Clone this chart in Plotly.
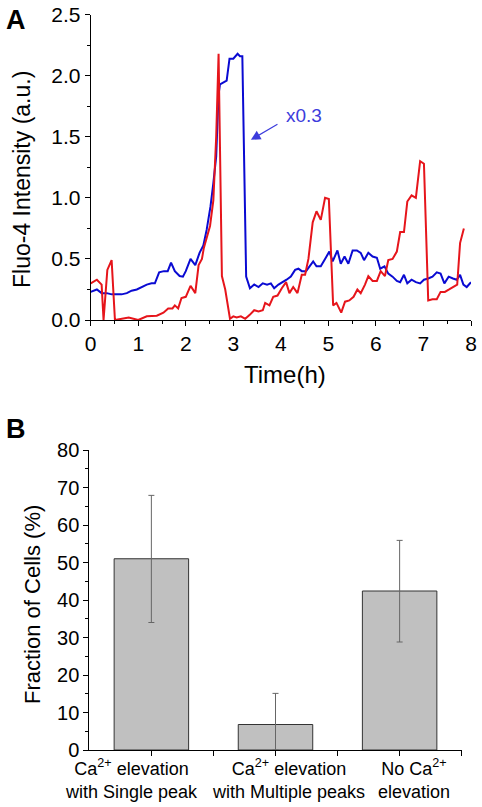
import plotly.graph_objects as go

# ---------------- Panel A data ----------------
time_red = [0.0, 0.13, 0.23, 0.27, 0.35, 0.44, 0.51, 0.8, 1.0, 1.18, 1.39, 1.53, 1.63, 1.72, 1.77, 1.84,
            1.91, 2.0, 2.1, 2.2, 2.27, 2.34, 2.38, 2.44, 2.51, 2.58, 2.64, 2.69, 2.76, 2.83, 2.93, 3.0,
            3.07, 3.16, 3.25, 3.34, 3.44, 3.53, 3.62, 3.67, 3.76, 3.84, 3.93, 4.02, 4.11, 4.18, 4.26,
            4.35, 4.44, 4.51, 4.58, 4.67, 4.75, 4.84, 4.93, 5.01, 5.1, 5.17, 5.27, 5.35, 5.44, 5.53,
            5.61, 5.68, 5.77, 5.84, 5.93, 6.02, 6.1, 6.19, 6.26, 6.35, 6.44, 6.51, 6.59, 6.66, 6.75,
            6.84, 6.93, 7.01, 7.1, 7.19, 7.28, 7.36, 7.45, 7.54, 7.63, 7.71, 7.77, 7.85]
red = [0.30, 0.33, 0.29, 0.0, 0.41, 0.49, 0.0, 0.02, 0.0, 0.03, 0.035, 0.06, 0.095, 0.095, 0.12, 0.095,
       0.18, 0.19, 0.28, 0.22, 0.45, 0.50, 0.59, 0.68, 0.77, 0.98, 1.50, 2.18, 0.36, 0.25, 0.01, 0.03,
       0.02, 0.03, 0.01, 0.04, 0.08, 0.07, 0.08, 0.14, 0.12, 0.19, 0.20, 0.26, 0.31, 0.22,
       0.27, 0.22, 0.37, 0.37, 0.50, 0.80, 0.89, 0.82, 1.00, 0.99, 0.12, 0.14, 0.06, 0.15, 0.16, 0.19,
       0.25, 0.22, 0.29, 0.36, 0.32, 0.32, 0.40, 0.36, 0.49, 0.50, 0.56, 0.72, 0.72, 0.97, 1.02,
       1.00, 1.30, 1.28, 0.16, 0.17, 0.17, 0.23, 0.23, 0.25, 0.27, 0.29, 0.63, 0.75]

time_blue = [0.0, 0.13, 0.23, 0.34, 0.44, 0.55, 0.65, 0.76, 0.86, 0.97, 1.07, 1.18, 1.28, 1.35, 1.44,
             1.54, 1.62, 1.69, 1.77, 1.87, 1.94, 2.0, 2.1, 2.2, 2.29, 2.37, 2.44, 2.52, 2.58, 2.64,
             2.69, 2.72, 2.86, 2.92, 3.0, 3.09, 3.14, 3.19, 3.27, 3.35, 3.44, 3.53, 3.62, 3.71,
             3.79, 3.86, 3.95, 4.04, 4.12, 4.21, 4.3, 4.37, 4.44, 4.53, 4.61, 4.68, 4.75, 4.84, 4.93,
             5.02, 5.09, 5.19, 5.26, 5.34, 5.42, 5.51, 5.6, 5.68, 5.75, 5.84, 5.93, 6.02, 6.09, 6.18,
             6.26, 6.35, 6.44, 6.51, 6.59, 6.66, 6.75, 6.84, 6.93, 7.01, 7.1, 7.19, 7.28, 7.36, 7.44,
             7.53, 7.62, 7.7, 7.77, 7.84, 7.91, 8.0]
blue = [0.23, 0.25, 0.22, 0.22, 0.21, 0.21, 0.21, 0.22, 0.24, 0.25, 0.27, 0.29, 0.30, 0.30, 0.39,
        0.40, 0.40, 0.47, 0.40, 0.36, 0.355, 0.40, 0.50, 0.45, 0.55, 0.61, 0.74, 0.93, 1.12, 1.34,
        1.85, 1.93, 1.96, 2.14, 2.14, 2.18, 2.16, 2.16, 0.355, 0.26, 0.29, 0.27, 0.30, 0.29,
        0.30, 0.26, 0.29, 0.31, 0.33, 0.355, 0.41, 0.42, 0.40, 0.40, 0.44, 0.48, 0.44, 0.44, 0.50,
        0.56, 0.48, 0.57, 0.46, 0.52, 0.46, 0.57, 0.57, 0.55, 0.49, 0.55, 0.52, 0.51, 0.42, 0.44,
        0.38, 0.355, 0.32, 0.31, 0.37, 0.30, 0.33, 0.31, 0.30, 0.33, 0.34, 0.355, 0.39, 0.38,
        0.30, 0.355, 0.34, 0.33, 0.37, 0.29, 0.27, 0.31]

# ---------------- Panel B data ----------------
categories = [1, 2, 3]
category_labels = ["Ca<sup>2+</sup> elevation<br>with Single peak",
                   "Ca<sup>2+</sup> elevation<br>with Multiple peaks",
                   "No Ca<sup>2+</sup><br>elevation"]
fractions = [51.0, 6.8, 42.4]
err_plus = [16.9, 8.3, 13.5]
err_minus = [17.0, 6.8, 13.6]

FONT = "Liberation Sans, Arial, sans-serif"
W, H = 482, 807

fig = go.Figure()

fig.add_trace(go.Scatter(x=time_blue, y=blue, mode="lines",
                         line=dict(color="#0a0ad2", width=2), xaxis="x", yaxis="y",
                         showlegend=False))
fig.add_trace(go.Scatter(x=time_red, y=red, mode="lines",
                         line=dict(color="#e6151b", width=2), xaxis="x", yaxis="y",
                         showlegend=False))

fig.add_trace(go.Bar(x=categories, y=fractions, width=0.6,
                     marker=dict(color="#c0c0c0", line=dict(color="#333333", width=1)),
                     error_y=dict(type="data", array=err_plus, arrayminus=err_minus,
                                  color="#666666", thickness=1, width=3),
                     xaxis="x2", yaxis="y2", showlegend=False))

axis_common = dict(showline=True, linecolor="black", linewidth=1, ticks="outside",
                   ticklen=5, tickwidth=1, tickcolor="black", showgrid=False, zeroline=False,
                   mirror=False, automargin=False)

fig.update_layout(
    width=W, height=H,
    margin=dict(l=0, r=0, t=0, b=0, pad=0, autoexpand=False),
    paper_bgcolor="white", plot_bgcolor="white",
    font=dict(family=FONT, color="black"),
    xaxis=dict(domain=[90.7 / W, 471 / W], anchor="y", range=[0, 8], dtick=1,
               tickfont=dict(size=21, family=FONT), ticklabeloverflow="allow",
               minor=dict(ticks="outside", dtick=0.5, ticklen=3, tickcolor="black"),
               **axis_common),
    yaxis=dict(domain=[1 - 320 / H, 1 - 14.7 / H], anchor="x", range=[0, 2.5], dtick=0.5,
               tickformat=".1f", tickfont=dict(size=21, family=FONT), ticklabeloverflow="allow",
               minor=dict(ticks="outside", dtick=0.25, ticklen=3, tickcolor="black"),
               **axis_common),
    xaxis2=dict(domain=[89.3 / W, 461.7 / W], anchor="y2", range=[0.5, 3.5],
                tickvals=[1, 1.5, 2, 2.5, 3, 3.5], showticklabels=False,
                **axis_common),
    yaxis2=dict(domain=[1 - 750 / H, 1 - 450 / H], anchor="x2", range=[0, 80], dtick=10,
                tickfont=dict(size=20, family=FONT),
                minor=dict(ticks="outside", dtick=5, ticklen=3, tickcolor="black"),
                **axis_common),
)

annotations = [
    dict(text="<b>A</b>", x=16 / W, y=1 - 20 / H, xref="paper", yref="paper", showarrow=False,
         font=dict(size=27, family=FONT), xanchor="center", yanchor="middle"),
    dict(text="<b>B</b>", x=16 / W, y=1 - 429 / H, xref="paper", yref="paper", showarrow=False,
         font=dict(size=27, family=FONT), xanchor="center", yanchor="middle"),
    dict(text="Fluo-4 Intensity (a.u.)", x=22 / W, y=1 - 180 / H, xref="paper", yref="paper",
         textangle=-90, showarrow=False, font=dict(size=23, family=FONT),
         xanchor="center", yanchor="middle"),
    dict(text="Time(h)", x=284.5 / W, y=1 - 374 / H, xref="paper", yref="paper",
         showarrow=False, font=dict(size=24, family=FONT), xanchor="center", yanchor="middle"),
    dict(text="Fraction of Cells (%)", x=32 / W, y=1 - 605 / H, xref="paper", yref="paper",
         textangle=-90, showarrow=False, font=dict(size=22, family=FONT),
         xanchor="center", yanchor="middle"),
    dict(text="x0.3", x=4.48, y=1.672, xref="x", yref="y", showarrow=False,
         font=dict(size=19, family=FONT, color="#3c3cdc"), xanchor="center", yanchor="middle"),
    dict(text="", x=3.37, y=1.475, ax=3.96, ay=1.61, xref="x", yref="y", axref="x", ayref="y",
         showarrow=True, arrowhead=2, arrowsize=1.6, arrowwidth=1.2, arrowcolor="#3c3cdc"),
]
# category labels (placed like the original, slightly off the tick centres)
label_centres_px = [131, 288, 414]
for lbl, cx in zip(category_labels, label_centres_px):
    annotations.append(dict(text=lbl, x=cx / W, y=1 - 779 / H, xref="paper", yref="paper",
                            showarrow=False, align="center", font=dict(size=18, family=FONT),
                            xanchor="center", yanchor="middle"))
fig.update_layout(annotations=annotations)

fig.write_html("out.html", config={"displayModeBar": False},
               post_script="document.body.style.margin='0';document.body.style.padding='0';")
